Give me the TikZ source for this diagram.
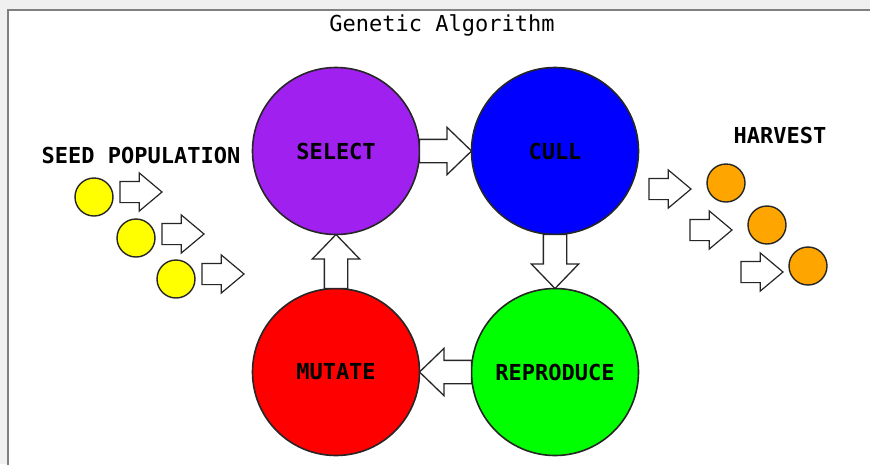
\documentclass[tikz,border=0pt]{standalone}
\usepackage{fontspec}
\setmonofont{DejaVu Sans Mono}
\usepackage{tikz}
\usetikzlibrary{positioning,shapes.arrows,calc}
\definecolor{violet}{HTML}{A020F0}
\definecolor{pureblue}{HTML}{0000FF}
\definecolor{purered}{HTML}{FF0000}
\definecolor{puregreen}{HTML}{00FF00}
\definecolor{seedyellow}{HTML}{FFFF00}
\definecolor{cropOrange}{HTML}{FFA500}
\definecolor{edge}{HTML}{262626}

\begin{document}
\begin{tikzpicture}[x=1pt,y=-1pt,every node/.style={font=\ttfamily\fontsize{22}{24}\selectfont,inner sep=0pt,outer sep=0pt},
  stage/.style={circle,draw=edge,line width=1.6pt,fill=#1,minimum size=167pt,font=\ttfamily\bfseries\fontsize{22}{24}\selectfont},
  dot/.style={circle,draw=edge,line width=1.4pt,fill=#1,minimum size=38pt},
  bigarrow/.style={single arrow,draw=edge,fill=white,line width=1.3pt,inner xsep=0pt,inner ysep=11pt,minimum height=52pt,single arrow head extend=12pt,single arrow tip angle=88,anchor=tail,rotate=#1},
  smallarrow/.style={single arrow,draw=edge,fill=white,line width=1.2pt,inner xsep=0pt,inner ysep=10pt,minimum height=42pt,single arrow head extend=8.5pt,single arrow tip angle=80}]
\useasboundingbox (0,0) rectangle (870,464);
\fill[black!6] (0,0) rectangle (870,464);
\draw[fill=white,draw=black!50,line width=2pt] (8,10) rectangle (880,474);
\node (title) at (442,25) {Genetic Algorithm};
\node[stage=violet] (select) at (336,151) {SELECT};
\node[stage=pureblue,right=52pt of select] (cull) {CULL};
\node[stage=purered,below=54pt of select] (mutate) {MUTATE};
\node[stage=puregreen,right=52pt of mutate] (reproduce) {REPRODUCE};
\node[bigarrow=0] (s2c) at (select.east) {};
\node[bigarrow=-90,minimum height=54pt] (c2r) at (cull.south) {};
\node[bigarrow=180] (r2m) at (reproduce.west) {};
\node[bigarrow=90,minimum height=54pt] (m2s) at (mutate.north) {};
\node[font=\ttfamily\bfseries\fontsize{22}{24}\selectfont] (seedlabel) at (141,155) {SEED POPULATION};
\node[dot=seedyellow] (seed1) at (94,197) {};
\node[dot=seedyellow] (seed2) at (136,238) {};
\node[dot=seedyellow] (seed3) at (176,279) {};
\node[smallarrow,right=7pt of seed1,yshift=5pt] (feed1) {};
\node[smallarrow,right=7pt of seed2,yshift=4pt] (feed2) {};
\node[smallarrow,right=7pt of seed3,yshift=5pt] (feed3) {};
\node[font=\ttfamily\bfseries\fontsize{22}{24}\selectfont] (harvestlabel) at (780,135) {HARVEST};
\node[dot=cropOrange] (crop1) at (726,183) {};
\node[dot=cropOrange] (crop2) at (767,225) {};
\node[dot=cropOrange] (crop3) at (808,266) {};
\node[smallarrow,left=16pt of crop1,yshift=-6pt] (pick1) {};
\node[smallarrow,left=16pt of crop2,yshift=-5pt] (pick2) {};
\node[smallarrow,left=6pt of crop3,yshift=-6pt] (pick3) {};
\end{tikzpicture}
\end{document}
